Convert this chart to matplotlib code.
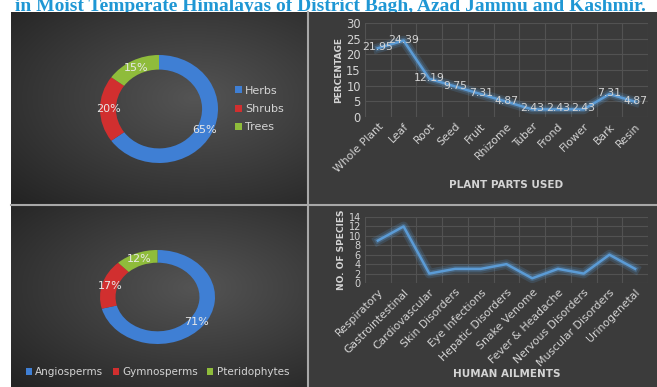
import numpy as np
import matplotlib
matplotlib.use("Agg")
import matplotlib.pyplot as plt
import matplotlib.patheffects as pe

W, H = 657, 387

# donut data
habit_labels = ["Herbs", "Shrubs", "Trees"]
habit_pct = [65, 20, 15]
group_labels = ["Angiosperms", "Gymnosperms", "Pteridophytes"]
group_pct = [71, 17, 12]
donut_colors = ["#3f7fd4", "#d12f2f", "#8fbc3b"]

# plant parts
parts = ["Whole Plant", "Leaf", "Root", "Seed", "Fruit", "Rhizome", "Tuber",
         "Frond", "Flower", "Bark", "Resin"]
parts_pct = [21.95, 24.39, 12.19, 9.75, 7.31, 4.87, 2.43, 2.43, 2.43, 7.31, 4.87]

# ailments
ailments = ["Respiratory", "Gastrointestinal", "Cardiovascular", "Skin Disorders",
            "Eye Infections", "Hepatic Disorders", "Snake Venome", "Fever & Headache",
            "Nervous Disorders", "Muscular Disorders", "Urinogenetal"]
n_species = [9, 12, 2, 3, 3, 4, 1, 3, 2, 6, 3]

txt = "#d4d4d4"
line_c = "#5b9bd5"
grid_c = "#525252"
panel_c = "#3b3b3b"


def box(x0, y0, x1, y1):
    # pixel box (top-left origin) -> figure rect
    return [x0 / W, 1 - y1 / H, (x1 - x0) / W, (y1 - y0) / H]


fig = plt.figure(figsize=(W / 100, H / 100), dpi=100)
fig.patch.set_facecolor("white")

# title is partly hidden behind the panels, as in the source image
fig.text(330 / W, 1 - 11 / H,
         "in Moist Temperate Himalayas of District Bagh, Azad Jammu and Kashmir.",
         ha="center", va="baseline", fontsize=14, fontweight="bold",
         family="Liberation Serif", color="#1f97d4", zorder=-1)

# right panels flat background
bg = fig.add_axes(box(11, 12, W, H))
bg.set_facecolor(panel_c)
bg.set_xticks([]); bg.set_yticks([])
for s in bg.spines.values():
    s.set_visible(False)

# left panels gradient
yy, xx = np.mgrid[0:1:200j, 0:1:200j]
for (y0, y1) in [(12, 204), (206, H)]:
    g = fig.add_axes(box(11, y0, 307, y1))
    d = np.sqrt(((xx - 0.62) / 0.9) ** 2 + ((yy - 0.55) / 0.8) ** 2)
    v = np.clip(0.33 - 0.2 * d, 0.14, 0.33)
    g.imshow(np.dstack([v, v, v]), extent=[0, 1, 0, 1], aspect="auto", origin="lower")
    g.set_axis_off()

# dividers
fig.add_artist(plt.Line2D([307.5 / W, 307.5 / W], [0, 1 - 12 / H], color="#a8a8a8", lw=1.5))
fig.add_artist(plt.Line2D([11 / W, 1], [1 - 205 / H, 1 - 205 / H], color="#a8a8a8", lw=1.5))


def donut(rect, vals, pcts_pos):
    ax = fig.add_axes(rect)
    wedges, _, autot = ax.pie(vals, colors=donut_colors, startangle=90, counterclock=False,
                              radius=1.0, wedgeprops=dict(width=0.27, edgecolor="none"),
                              autopct="%d%%", pctdistance=pcts_pos,
                              textprops=dict(color="#e8e8e8", fontsize=8))
    ax.set_aspect("auto")
    ax.set_xlim(-1, 1)
    ax.set_ylim(-1, 1)
    ax.axis("off")
    return ax, wedges


ax1, w1 = donut(box(100, 55, 218, 163), habit_pct, 0.86)
ax1.legend(w1, habit_labels, loc="center left", bbox_to_anchor=(1.06, 0.5),
           frameon=False, fontsize=8, labelcolor=txt, handlelength=0.6,
           handleheight=0.6, handletextpad=0.3, labelspacing=0.75)

ax2, w2 = donut(box(100, 250, 215, 344), group_pct, 0.86)
ax2.legend(w2, group_labels, loc="center", bbox_to_anchor=(0.5, -0.3), ncol=3,
           frameon=False, fontsize=7.5, labelcolor=txt, handlelength=0.6,
           handleheight=0.6, handletextpad=0.3, columnspacing=0.9)


def line_chart(rect, cats, vals, ymax, step, xlabel, ylabel, labels):
    ax = fig.add_axes(rect)
    ax.set_facecolor("none")
    x = np.arange(len(cats))
    glow = [pe.Stroke(linewidth=7, foreground=line_c, alpha=0.18),
            pe.Stroke(linewidth=4, foreground=line_c, alpha=0.3), pe.Normal()]
    ax.plot(x, vals, color=line_c, lw=1.8, path_effects=glow, zorder=3)
    ax.set_xlim(-0.5, len(cats) - 0.5)
    ax.set_ylim(0, ymax)
    ax.set_yticks(np.arange(0, ymax + 1, step))
    ax.set_xticks(x)
    ax.set_xticklabels(cats, rotation=45, ha="right", rotation_mode="anchor")
    ax.set_xticks(np.arange(-0.5, len(cats)), minor=True)
    ax.grid(True, which="minor", axis="x", color=grid_c, lw=0.8)
    ax.grid(True, which="major", axis="y", color=grid_c, lw=0.8)
    ax.tick_params(which="both", length=0, colors=txt, labelsize=7.8, pad=3)
    for s in ax.spines.values():
        s.set_visible(False)
    ax.set_xlabel(xlabel, color=txt, fontsize=7.5, fontweight="bold")
    ax.set_ylabel(ylabel, color=txt, fontsize=6.5, fontweight="bold", labelpad=2)
    if labels:
        for xi, v in zip(x, vals):
            ax.text(xi, v + ymax * 0.01, f"{v:.2f}", ha="center", va="center",
                    color=txt, fontsize=7.8, zorder=4)
    return ax


a3 = line_chart(box(365, 23, 648, 117), parts, parts_pct, 30, 5,
                "PLANT PARTS USED", "PERCENTAGE", True)
a3.tick_params(axis="y", labelsize=8.3)
a3.xaxis.labelpad = 4
a4 = line_chart(box(365, 217, 648, 283), ailments, n_species, 14, 2,
                "HUMAN AILMENTS", "NO. OF SPECIES", False)
a4.tick_params(axis="y", labelsize=7, pad=3)
a4.xaxis.labelpad = 1

fig.savefig("out.png", dpi=100, facecolor=fig.get_facecolor())
